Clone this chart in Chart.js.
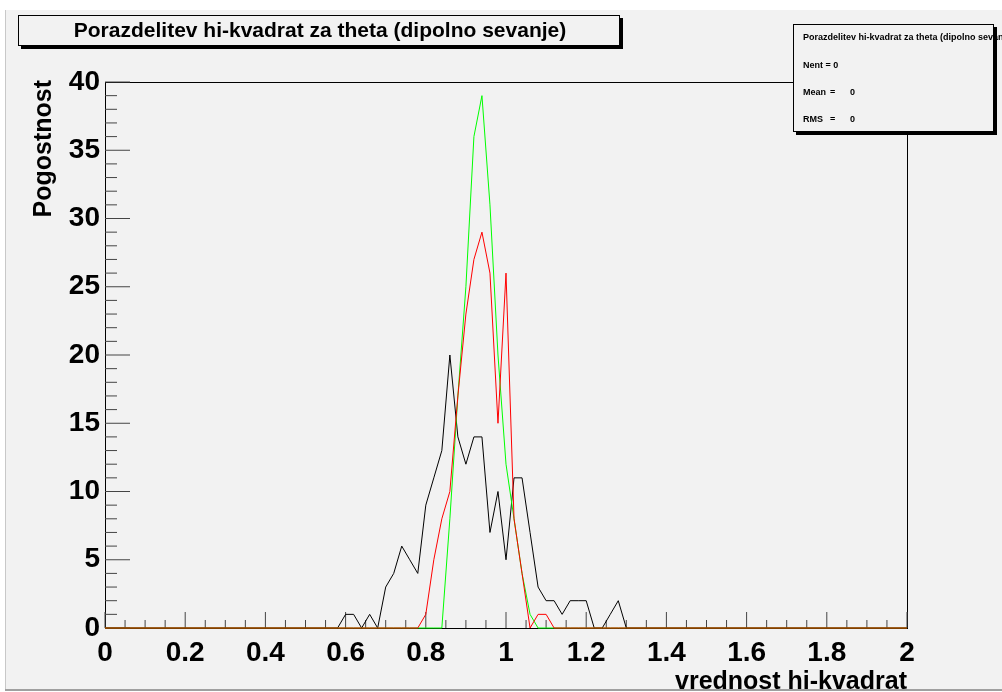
<!DOCTYPE html>
<html>
<head>
<meta charset="utf-8">
<script src="https://cdn.jsdelivr.net/npm/chart.js@4.4.0/dist/chart.umd.min.js"></script>
<style>
html, body { margin: 0; padding: 0; background: #fff; }
canvas { display: block; }
</style>
</head>
<body>
<canvas id="myChart" width="1002" height="692"></canvas>
<script>
// Vrednosti binov (x) in pogostnosti za tri histograme
const binX = [0, 0.58, 0.60, 0.62, 0.64, 0.66, 0.68, 0.70, 0.72, 0.74, 0.76, 0.78, 0.80, 0.82, 0.84,
  0.86, 0.88, 0.90, 0.92, 0.94, 0.96, 0.98, 1.00, 1.02, 1.04, 1.06, 1.08, 1.10, 1.12, 1.14,
  1.16, 1.18, 1.20, 1.22, 1.24, 1.26, 1.28, 1.30, 2];
const crnaVrednosti = [0, 0, 1, 1, 0, 1, 0, 3, 4, 6, 5, 4, 9, 11, 13,
  20, 14, 12, 14, 14, 7, 10, 5, 11, 11, 7, 3, 2, 2, 1,
  2, 2, 2, 0, 0, 1, 2, 0, 0];
const rdecaVrednosti = [0, 0, 0, 0, 0, 0, 0, 0, 0, 0, 0, 0, 1, 5, 8,
  10, 17, 23, 27, 29, 26, 15, 26, 8, 4, 0, 1, 1, 0, 0,
  0, 0, 0, 0, 0, 0, 0, 0, 0];
const zelenaVrednosti = [0, 0, 0, 0, 0, 0, 0, 0, 0, 0, 0, 0, 0, 0, 0,
  8, 17, 25, 36, 39, 31, 20, 12, 8, 4, 1, 0, 0, 0, 0,
  0, 0, 0, 0, 0, 0, 0, 0, 0];

// Oznake na oseh
const xTickValues = [0, 0.2, 0.4, 0.6, 0.8, 1, 1.2, 1.4, 1.6, 1.8, 2];
const xTickLabels = ['0', '0.2', '0.4', '0.6', '0.8', '1', '1.2', '1.4', '1.6', '1.8', '2'];
const yTickValues = [0, 5, 10, 15, 20, 25, 30, 35, 40];
const yTickLabels = ['0', '5', '10', '15', '20', '25', '30', '35', '40'];

const naslov = 'Porazdelitev hi-kvadrat za theta (dipolno sevanje)';
const statistika = [['Nent = 0', '', ''], ['Mean', '=', '0'], ['RMS', '=', '0']];
const xNaslov = 'vrednost hi-kvadrat';
const yNaslov = 'Pogostnost';

const pisava = "'Liberation Sans', Arial, Helvetica, sans-serif";

const toTocke = arr => binX.map((x, i) => ({ x: x, y: arr[i] }));

// Ozadje, okvir, notranje oznake, naslov in statistika
const rootStil = {
  id: 'rootStil',
  beforeDraw(chart) {
    const c = chart.ctx;
    c.save();
    c.fillStyle = '#ffffff';
    c.fillRect(0, 0, chart.width, chart.height);
    c.fillStyle = '#f2f2f2';
    c.fillRect(5, 10, chart.width - 5, 680);
    c.fillStyle = '#c8c8c8';
    c.fillRect(5, 10, 1, 680);
    c.fillStyle = '#a0a0a0';
    c.fillRect(5, 689, chart.width - 5, 2);
    c.restore();
  },
  beforeDatasetsDraw(chart) {
    const c = chart.ctx;
    const a = chart.chartArea;
    const x = chart.scales.x;
    const y = chart.scales.y;
    c.save();
    c.strokeStyle = '#000';
    c.lineWidth = 1;
    c.strokeRect(a.left + 0.5, a.top + 0.5, a.right - a.left, a.bottom - a.top);
    c.strokeStyle = '#444';
    c.beginPath();
    for (let i = 0; i <= 40; i++) {
      const py = y.getPixelForValue(i);
      const len = i % 5 === 0 ? 25 : 12;
      c.moveTo(a.left, py);
      c.lineTo(a.left + len, py);
    }
    for (let i = 0; i <= 40; i++) {
      const px = x.getPixelForValue(i * 0.05);
      const len = i % 4 === 0 ? 16 : 8;
      c.moveTo(px, a.bottom);
      c.lineTo(px, a.bottom - len);
    }
    c.stroke();
    c.restore();
  },
  afterDraw(chart) {
    const c = chart.ctx;
    const a = chart.chartArea;
    c.save();

    // naslov
    c.fillStyle = '#000';
    c.fillRect(21, 18, 602, 31);
    c.fillStyle = '#f2f2f2';
    c.fillRect(18, 15, 602, 31);
    c.strokeStyle = '#000';
    c.lineWidth = 1;
    c.strokeRect(18.5, 15.5, 601, 30);
    c.fillStyle = '#000';
    c.font = 'bold 21px ' + pisava;
    c.textAlign = 'center';
    c.textBaseline = 'middle';
    c.fillText(naslov, 320, 31);

    // statistika
    c.fillStyle = '#000';
    c.fillRect(796, 27, 201, 108);
    c.fillStyle = '#f2f2f2';
    c.fillRect(793, 24, 201, 108);
    c.fillStyle = '#000';
    c.font = 'bold 9px ' + pisava;
    c.textAlign = 'left';
    c.textBaseline = 'alphabetic';
    c.fillText(naslov, 803, 40);
    const vrstice = [67.5, 95, 122];
    statistika.forEach((v, i) => {
      c.fillText(v[0], 803, vrstice[i]);
      if (v[1]) c.fillText(v[1], 830, vrstice[i]);
      if (v[2]) c.fillText(v[2], 850, vrstice[i]);
    });
    c.strokeRect(793.5, 24.5, 200, 107);

    // naslova osi
    c.font = 'bold 25px ' + pisava;
    c.textAlign = 'right';
    c.textBaseline = 'alphabetic';
    c.fillText(xNaslov, a.right, 689);
    c.translate(51, 80);
    c.rotate(-Math.PI / 2);
    c.fillText(yNaslov, 0, 0);
    c.restore();
  }
};

const ctx = document.getElementById('myChart').getContext('2d');

const chart = new Chart(ctx, {
  type: 'line',
  data: {
    datasets: [
      { label: 'rdeca', data: toTocke(rdecaVrednosti), borderColor: '#ff0000', borderWidth: 1, clip: false },
      { label: 'zelena', data: toTocke(zelenaVrednosti), borderColor: '#00ff00', borderWidth: 1, clip: false },
      { label: 'crna', data: toTocke(crnaVrednosti), borderColor: '#000000', borderWidth: 1, clip: false }
    ]
  },
  options: {
    responsive: false,
    animation: false,
    events: [],
    parsing: false,
    elements: { point: { radius: 0 }, line: { tension: 0 } },
    layout: { autoPadding: false, padding: { left: 0, top: 82, right: 95, bottom: 0 } },
    scales: {
      x: {
        type: 'linear',
        min: 0,
        max: 2,
        afterBuildTicks: s => { s.ticks = xTickValues.map(v => ({ value: v })); },
        afterFit: s => { s.height = 64; },
        ticks: {
          callback: (v, i) => xTickLabels[i],
          font: { family: pisava, size: 28, weight: 'bold' },
          color: '#000',
          padding: 8,
          maxRotation: 0,
          autoSkip: false
        },
        grid: { display: false, drawTicks: false },
        border: { display: false }
      },
      y: {
        type: 'linear',
        min: 0,
        max: 40,
        afterBuildTicks: s => { s.ticks = yTickValues.map(v => ({ value: v })); },
        afterFit: s => { s.width = 105; },
        ticks: {
          callback: (v, i) => yTickLabels[i],
          font: { family: pisava, size: 28, weight: 'bold' },
          color: '#000',
          padding: 5,
          autoSkip: false
        },
        grid: { display: false, drawTicks: false },
        border: { display: false }
      }
    },
    plugins: {
      legend: { display: false },
      tooltip: { enabled: false }
    }
  },
  plugins: [rootStil]
});
</script>
</body>
</html>
